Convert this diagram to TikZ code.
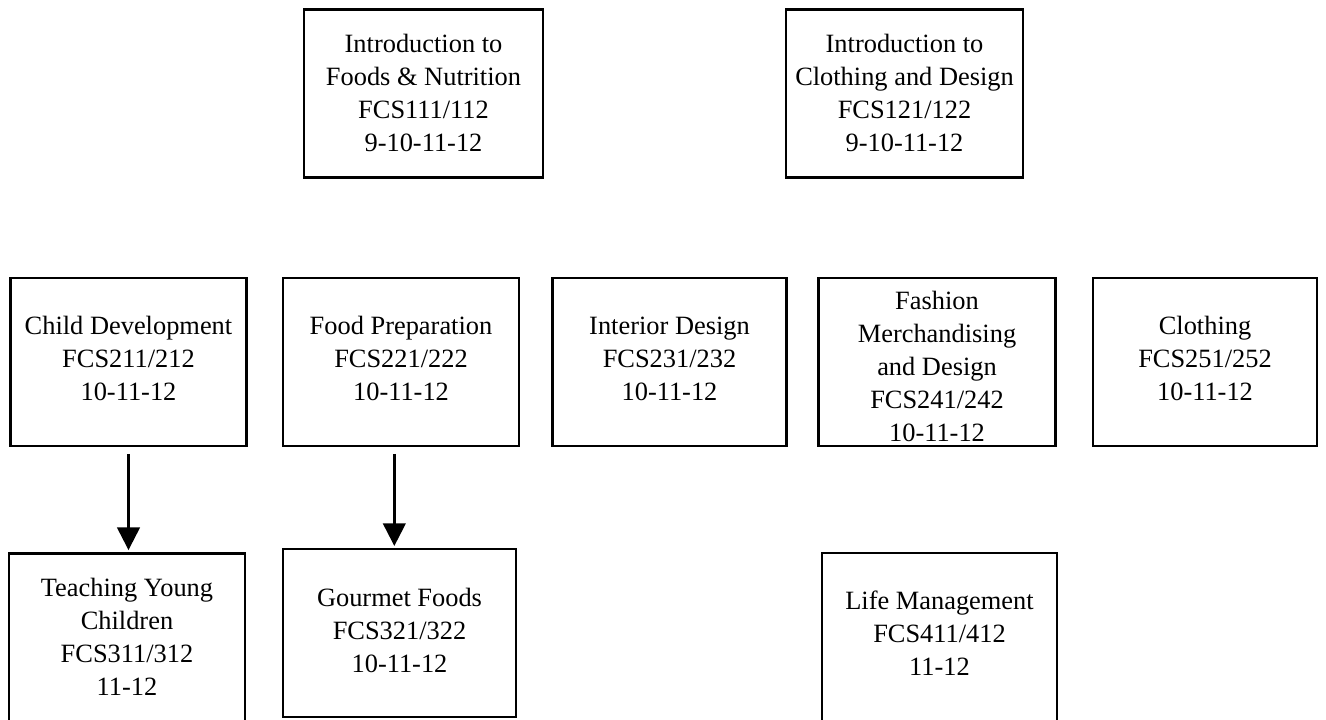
\documentclass[tikz,border=0pt]{standalone}
\usepackage{fontspec}
\setmainfont{Liberation Serif}
\usetikzlibrary{arrows.meta,positioning}
\tikzset{every picture/.style={line width=0.75pt}}

\begin{document}
\begin{tikzpicture}[x=0.75pt,y=0.75pt,yscale=-1,xscale=1,
  course/.style={draw, line width=1.875pt, minimum height=126pt, inner sep=1pt,
    align=center, font=\fontsize{19.8}{24.75}\selectfont},
  threeline/.style={text depth=5pt},
  fiveline/.style={text height=119.5pt},
  prereq/.style={-{Triangle[length=17pt,width=17pt]}, line width=1.75pt,
    shorten <=5pt, shorten >=1.5pt}]
%set diagram left start at 0, and has height of 719
\useasboundingbox (0,0) rectangle (1326,719);

%Shape: Rectangle [intro courses]
\node [course, minimum width=179.25pt] (foods) at (423.5,93.3) {Introduction to\\Foods \& Nutrition\\FCS111/112\\9-10-11-12};
\node [course, minimum width=177.75pt] (cloth) at (904.5,93.3) {Introduction to\\Clothing and Design\\FCS121/122\\9-10-11-12};

%Shape: Rectangle [second level]
\node [course, threeline, minimum width=177pt] (child) at (128.5,362) {Child Development\\FCS211/212\\10-11-12};
\node [course, threeline, minimum width=176.7pt] (prep) at (401,362) {Food Preparation\\FCS221/222\\10-11-12};
\node [course, threeline, minimum width=175.5pt] (interior) at (669.5,362) {Interior Design\\FCS231/232\\10-11-12};
\node [course, fiveline, minimum width=177.75pt] (fashion) at (937,362) {Fashion\\Merchandising\\and Design\\FCS241/242\\10-11-12};
\node [course, threeline, minimum width=168pt] (clothing) at (1205,362) {Clothing\\FCS251/252\\10-11-12};

%Shape: Rectangle [third level]
\node [course, minimum width=177pt] (teach) at (127,637.3) {Teaching Young\\Children\\FCS311/312\\11-12};
\node [course, threeline, minimum width=174.75pt] (gourmet) at (399.5,633.2) {Gourmet Foods\\FCS321/322\\10-11-12};
\node [course, threeline, minimum width=176.25pt] (life) at (939.5,637) {Life Management\\FCS411/412\\11-12};

%Straight Lines [prerequisites]
\draw [prereq] (child.south) -- (child.south |- teach.north);
\draw [prereq] ([xshift=-5]prep.south) -- ([xshift=-5]prep.south |- gourmet.north);

\end{tikzpicture}
\end{document}
